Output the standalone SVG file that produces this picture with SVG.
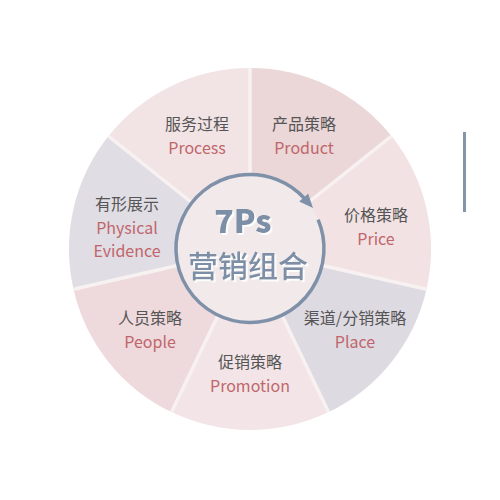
<svg xmlns="http://www.w3.org/2000/svg" width="500" height="500" viewBox="0 0 500 500">
  <style>
    .sep { stroke: #f8f1f1; stroke-width: 3.5; stroke-linecap: butt; fill: none; }
    .cn { font-family: "Noto Sans CJK SC", "Noto Sans", sans-serif; font-size: 16px; fill: #555555; text-anchor: middle; }
    .en { font-family: "Noto Sans CJK SC", "Noto Sans", sans-serif; font-size: 16px; fill: #c0666b; text-anchor: middle; }
    .big { font-family: "Noto Sans CJK SC", "Noto Sans", sans-serif; text-anchor: middle; fill: #7d8fa7; filter: url(#whiteShadow); }
  </style>
  <defs>
    <marker id="arrow" viewBox="0 0 14 12" refX="2" refY="6" markerWidth="14" markerHeight="12" markerUnits="userSpaceOnUse" orient="auto">
      <path d="M0,0 L14,6 L0,12 z" fill="#7f91a9"/>
    </marker>
    <filter id="whiteShadow" x="-10%" y="-20%" width="130%" height="150%">
      <feDropShadow dx="1.8" dy="1.8" stdDeviation="0.2" flood-color="#ffffff" flood-opacity="1"/>
    </filter>
  </defs>

  <rect width="500" height="500" fill="#ffffff"/>

  <g id="node-product">
    <path d="M250 249 L250 68 A181 181 0 0 1 391.5 136.1 Z" fill="#ebd6d8"/>
    <text class="cn" x="304" y="130">产品策略</text>
    <text class="en" x="304" y="154">Product</text>
  </g>
  <g id="node-price">
    <path d="M250 249 L391.5 136.1 A181 181 0 0 1 426.5 289.3 Z" fill="#f2e2e3"/>
    <text class="cn" x="376" y="221">价格策略</text>
    <text class="en" x="376" y="245">Price</text>
  </g>
  <g id="node-place">
    <path d="M250 249 L426.5 289.3 A181 181 0 0 1 328.5 412.1 Z" fill="#dedae2"/>
    <text class="cn" x="355" y="324">渠道/分销策略</text>
    <text class="en" x="355" y="348">Place</text>
  </g>
  <g id="node-promotion">
    <path d="M250 249 L328.5 412.1 A181 181 0 0 1 171.5 412.1 Z" fill="#f3e5e7"/>
    <text class="cn" x="250" y="368">促销策略</text>
    <text class="en" x="250" y="392">Promotion</text>
  </g>
  <g id="node-people">
    <path d="M250 249 L171.5 412.1 A181 181 0 0 1 73.5 289.3 Z" fill="#eed9dc"/>
    <text class="cn" x="150" y="324">人员策略</text>
    <text class="en" x="150" y="348">People</text>
  </g>
  <g id="node-physical-evidence">
    <path d="M250 249 L73.5 289.3 A181 181 0 0 1 108.5 136.1 Z" fill="#e1dde4"/>
    <text class="cn" x="127" y="210">有形展示</text>
    <text class="en" x="127" y="234">Physical</text>
    <text class="en" x="127" y="257">Evidence</text>
  </g>
  <g id="node-process">
    <path d="M250 249 L108.5 136.1 A181 181 0 0 1 250 68 Z" fill="#f2e4e5"/>
    <text class="cn" x="197" y="130">服务过程</text>
    <text class="en" x="197" y="154">Process</text>
  </g>

  <g id="separators">
    <path class="sep" d="M250 249 L250 68 M250 249 L391.5 136.1 M250 249 L426.5 289.3 M250 249 L328.5 412.1 M250 249 L171.5 412.1 M250 249 L73.5 289.3 M250 249 L108.5 136.1"/>
  </g>

  <g id="node-center">
    <circle cx="250" cy="248.5" r="74" fill="#f2e9ea"/>
    <text class="big" x="243" y="232.5" font-size="32" font-weight="900">7Ps</text>
    <text class="big" x="248" y="277" font-size="30" font-weight="500">营销组合</text>
  </g>

  <g id="connectors">
    <path d="M318.1 219.6 A74 74 0 1 1 305.0 199.0" fill="none" stroke="#7f91a9" stroke-width="3.5" marker-end="url(#arrow)"/>
  </g>

  <rect x="463" y="132" width="3" height="80" fill="#8394ab"/>
</svg>
